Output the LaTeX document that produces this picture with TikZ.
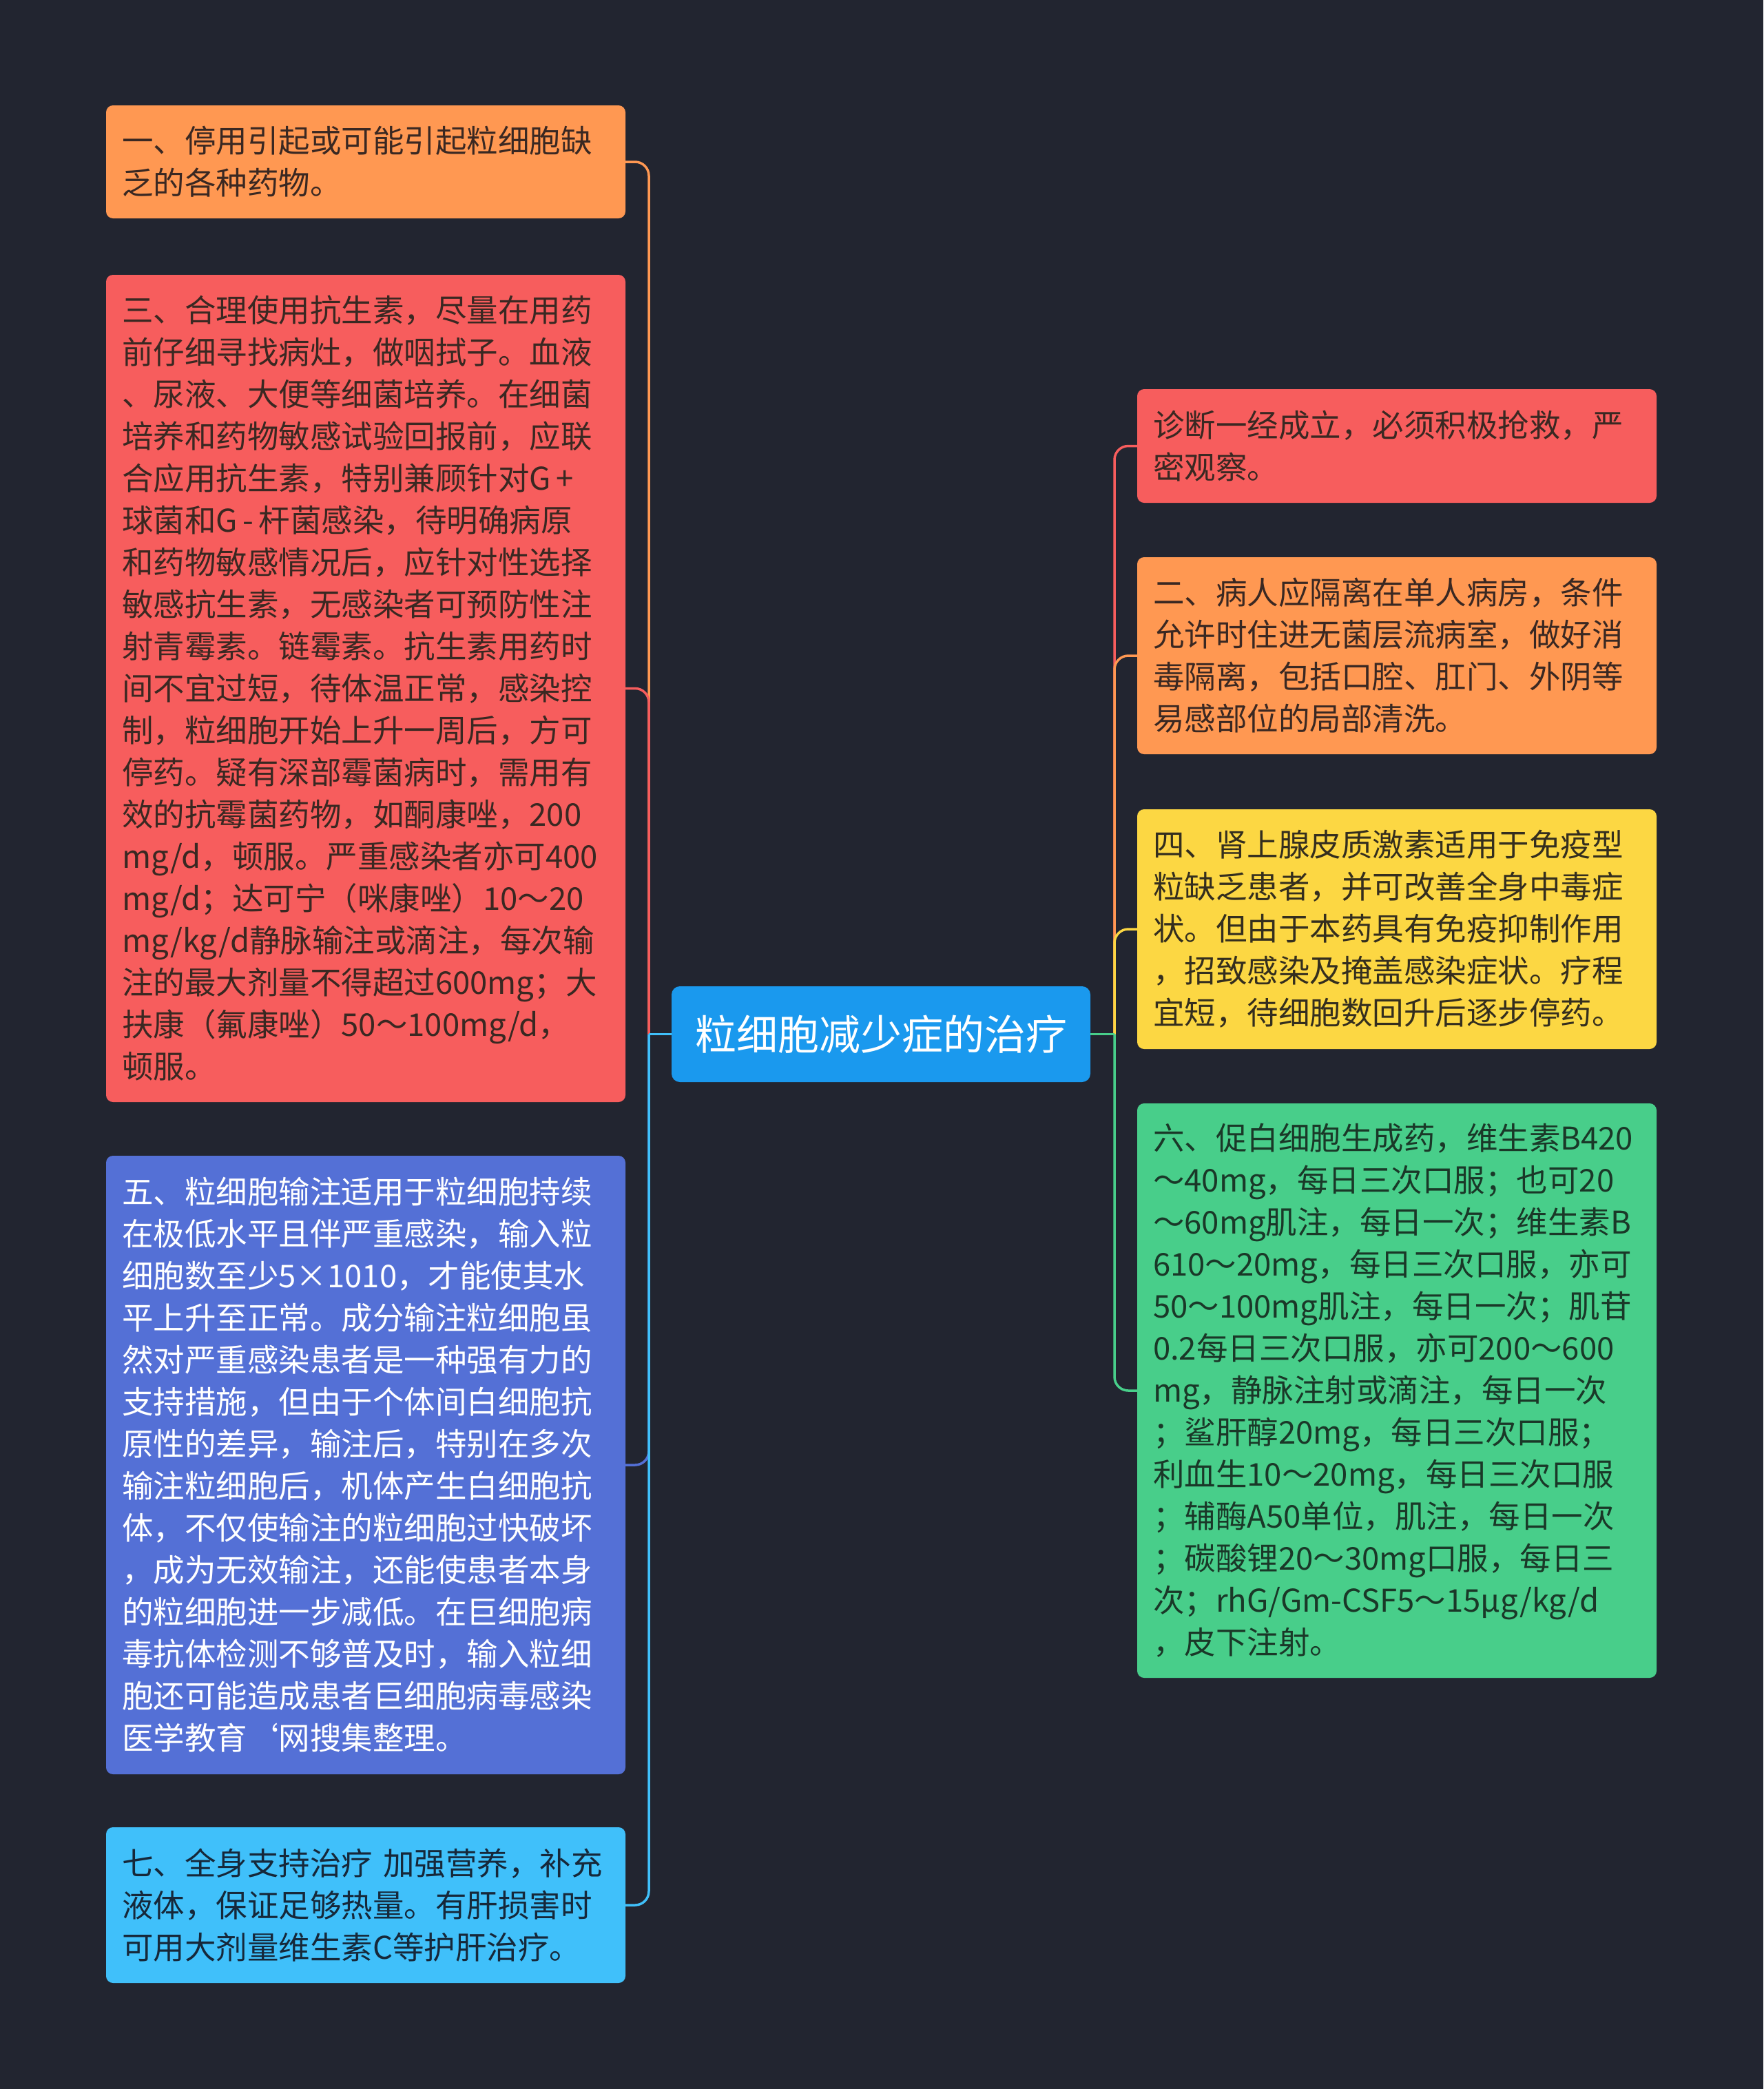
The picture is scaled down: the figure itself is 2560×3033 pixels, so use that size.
\documentclass[tikz,border=0pt]{standalone}
\usepackage{fontspec}
\setmainfont{Noto Sans CJK SC}
\definecolor{bgdark}{RGB}{34,37,48}
\definecolor{orangebox}{RGB}{255,152,82}
\definecolor{redbox}{RGB}{247,93,93}
\definecolor{violetbox}{RGB}{84,112,214}
\definecolor{skybox}{RGB}{64,192,250}
\definecolor{rootbox}{RGB}{26,153,238}
\definecolor{yellowbox}{RGB}{252,215,67}
\definecolor{greenbox}{RGB}{72,206,138}
\definecolor{browntext}{RGB}{58,40,34}
\definecolor{olivetext}{RGB}{52,46,30}
\definecolor{pinetext}{RGB}{26,56,40}
\definecolor{navytext}{RGB}{22,40,58}
\tikzset{
  leaf/.style={rectangle, rounded corners=10pt, text width=708pt, inner xsep=23pt,
    inner ysep=0pt, align=left, font=\fontsize{45.5}{61}\selectfont},
  root/.style={rectangle, rounded corners=12pt, fill=rootbox, text=white,
    minimum width=608pt, minimum height=139pt, font=\fontsize{60}{72}\selectfont},
  branch/.style={line width=3.5pt, rounded corners=20pt},
}
\begin{document}
\begin{tikzpicture}[x=1pt,y=-1pt]
  \useasboundingbox (0,0) rectangle (2560,3033);
  \fill[bgdark] (0,0) rectangle (2560,3033);

  \node[root] (root) at (1279,1501.5) {粒细胞减少症的治疗};

  \node[leaf, fill=orangebox, text=browntext, minimum height=164pt] (b1) at (531,235)
    {一、停用引起或可能引起粒细胞缺\\乏的各种药物。};
  \node[leaf, fill=redbox, text=browntext, minimum height=1201pt] (b3) at (531,999.5)
    {三、合理使用抗生素，尽量在用药\\前仔细寻找病灶，做咽拭子。血液\\、尿液、大便等细菌培养。在细菌\\培养和药物敏感试验回报前，应联\\合应用抗生素，特别兼顾针对G\,+\\球菌和G\,-\,杆菌感染，待明确病原\\和药物敏感情况后，应针对性选择\\敏感抗生素，无感染者可预防性注\\射青霉素。链霉素。抗生素用药时\\间不宜过短，待体温正常，感染控\\制，粒细胞开始上升一周后，方可\\停药。疑有深部霉菌病时，需用有\\效的抗霉菌药物，如酮康唑，200\\mg/d，顿服。严重感染者亦可400\\mg/d；达可宁（咪康唑）10～20\\mg/kg/d静脉输注或滴注，每次输\\注的最大剂量不得超过600mg；大\\扶康（氟康唑）50～100mg/d，\\顿服。};
  \node[leaf, fill=violetbox, text=white, minimum height=898pt] (b5) at (531,2127)
    {五、粒细胞输注适用于粒细胞持续\\在极低水平且伴严重感染，输入粒\\细胞数至少5×1010，才能使其水\\平上升至正常。成分输注粒细胞虽\\然对严重感染患者是一种强有力的\\支持措施，但由于个体间白细胞抗\\原性的差异，输注后，特别在多次\\输注粒细胞后，机体产生白细胞抗\\体，不仅使输注的粒细胞过快破坏\\，成为无效输注，还能使患者本身\\的粒细胞进一步减低。在巨细胞病\\毒抗体检测不够普及时，输入粒细\\胞还可能造成患者巨细胞病毒感染\\医学教育\symbol{96}网搜集整理。};
  \node[leaf, fill=skybox, text=navytext, minimum height=226pt] (b7) at (531,2766)
    {七、全身支持治疗~加强营养，补充\\液体，保证足够热量。有肝损害时\\可用大剂量维生素C等护肝治疗。};

  \node[leaf, fill=redbox, text=browntext, minimum height=165pt] (r1) at (2028,647.5)
    {诊断一经成立，必须积极抢救，严\\密观察。};
  \node[leaf, fill=orangebox, text=browntext, minimum height=286pt] (r2) at (2028,952)
    {二、病人应隔离在单人病房，条件\\允许时住进无菌层流病室，做好消\\毒隔离，包括口腔、肛门、外阴等\\易感部位的局部清洗。};
  \node[leaf, fill=yellowbox, text=olivetext, minimum height=348pt] (r4) at (2028,1349)
    {四、肾上腺皮质激素适用于免疫型\\粒缺乏患者，并可改善全身中毒症\\状。但由于本药具有免疫抑制作用\\，招致感染及掩盖感染症状。疗程\\宜短，待细胞数回升后逐步停药。};
  \node[leaf, fill=greenbox, text=pinetext, minimum height=834pt] (r6) at (2028,2019)
    {六、促白细胞生成药，维生素B420\\～40mg，每日三次口服；也可20\\～60mg肌注，每日一次；维生素B\\610～20mg，每日三次口服，亦可\\50～100mg肌注，每日一次；肌苷\\0.2每日三次口服，亦可200～600\\mg，静脉注射或滴注，每日一次\\；鲨肝醇20mg，每日三次口服；\\利血生10～20mg，每日三次口服\\；辅酶A50单位，肌注，每日一次\\；碳酸锂20～30mg口服，每日三\\次；rhG/Gm-CSF5～15μg/kg/d\\，皮下注射。};

  \coordinate (lhub) at (942,1501.5);
  \coordinate (rhub) at (1618,1501.5);

  \draw[branch, orangebox] (lhub) |- (b1.east);
  \draw[branch, redbox] (lhub) |- (b3.east);
  \draw[branch, violetbox] (lhub) |- (b5.east);
  \draw[branch, skybox] (lhub) |- (b7.east);
  \draw[branch, skybox] (root.west) -- (lhub);

  \draw[branch, redbox] (rhub) |- (r1.west);
  \draw[branch, orangebox] (rhub) |- (r2.west);
  \draw[branch, yellowbox] (rhub) |- (r4.west);
  \draw[branch, greenbox] (rhub) |- (r6.west);
  \draw[branch, greenbox] (root.east) -- (rhub);
\end{tikzpicture}
\end{document}
